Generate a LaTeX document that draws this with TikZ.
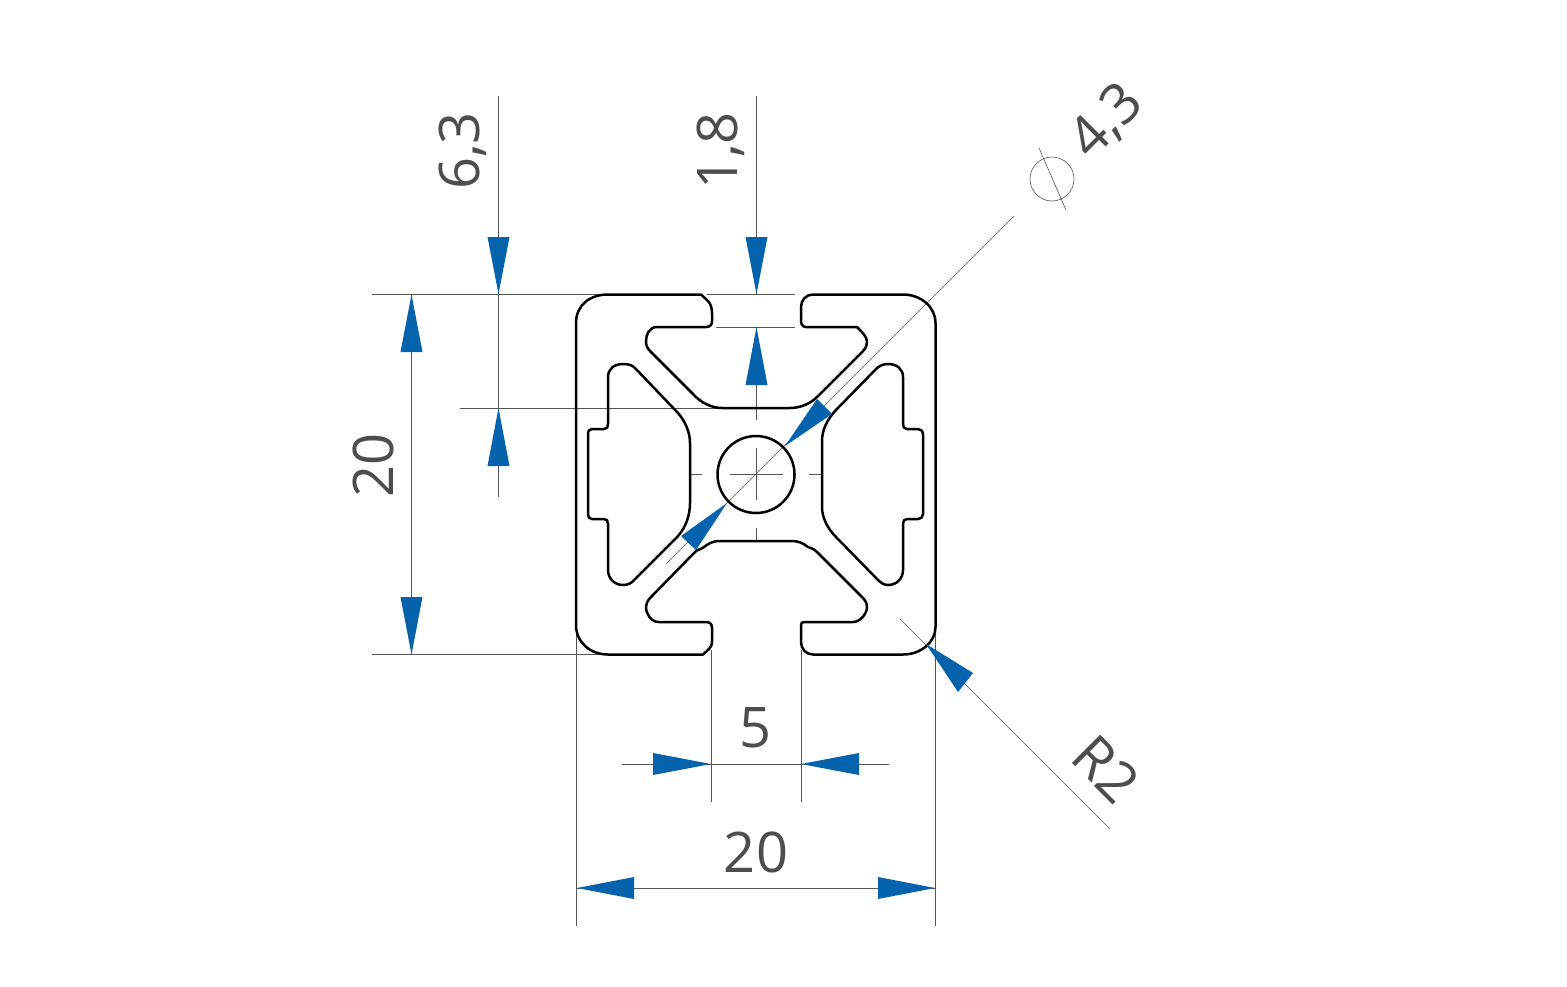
\documentclass[tikz,border=0pt]{standalone}
\usepackage{fontspec}
\setmainfont{Open Sans}
\definecolor{dimgray}{HTML}{555555}
\definecolor{dimtext}{HTML}{4D4D4D}
\definecolor{dimblue}{HTML}{0563AE}
\tikzset{
  profile/.style={draw=black,line width=1.25pt,line join=round},
  dimline/.style={draw=dimgray,line width=0.4pt},
  thinline/.style={draw=dimgray,line width=0.3pt},
  tip/.style={fill=dimblue,draw=none},
  dimlabel/.style={text=dimtext,font=\fontsize{28}{28}\selectfont,inner sep=0pt,anchor=center}
}
\begin{document}
\begin{tikzpicture}[x=0.5pt,y=-0.5pt]
\useasboundingbox (0,0) rectangle (1567,986);
\fill[white] (0,0) rectangle (1567,986);
% dimension lines
\draw[dimline] (372,294.5) -- (604,294.5);
\draw[dimline] (372,654.5) -- (604,654.5);
\draw[dimline] (707,294.5) -- (795,294.5);
\draw[dimline] (716,327) -- (795,327);
\draw[dimline] (460,408) -- (722,408);
\draw[dimline] (756.5,96) -- (756.5,294);
\draw[dimline] (756.5,327) -- (756.5,420);
\draw[dimline] (756.5,448) -- (756.5,500);
\draw[dimline] (756.5,528) -- (756.5,540);
\draw[dimline] (691,474.5) -- (702,474.5);
\draw[dimline] (730,474.5) -- (783,474.5);
\draw[dimline] (809,474.5) -- (822,474.5);
\draw[dimline] (498.5,96) -- (498.5,497);
\draw[dimline] (411.5,294.5) -- (411.5,654.5);
\draw[dimline] (576.5,625) -- (576.5,926);
\draw[dimline] (935.5,625) -- (935.5,926);
\draw[dimline] (577,888) -- (935,888);
\draw[dimline] (622,764) -- (889,764);
\draw[dimline] (711.5,650) -- (711.5,802);
\draw[dimline] (801,650) -- (801,802);
\draw[thinline] (1014,216) -- (666,564);
\draw[thinline] (900,619) -- (1110,829);
% profile
\draw[profile] (576,323) .. controls (576,305) and (590,294.5) .. (608,294.5) -- (701,294.5) -- (708,301)
  .. controls (711,304) and (712,309) .. (712,313) -- (712,321) .. controls (712,325) and (710,327) .. (706,327)
  -- (657,327) .. controls (649,327) and (646,335) .. (646,341) .. controls (646,345) and (647,348) .. (650,351)
  -- (693,394) .. controls (701,403) and (712,408) .. (722,408) -- (790,408)
  .. controls (800,408) and (810,404) .. (817,397) -- (863,351) .. controls (866,348) and (867,345) .. (867,342)
  .. controls (867,337) and (863,333) .. (857,327) -- (806,327) .. controls (802,327) and (801,324) .. (801,320) -- (801,307)
  .. controls (801,300) and (806,294.5) .. (813,294.5) -- (903,294.5)
  .. controls (921,294.5) and (935.5,307) .. (935.5,323) -- (935.5,627)
  .. controls (935.5,642) and (921,654.5) .. (903,654.5) -- (813,654.5)
  .. controls (806,654.5) and (801,649) .. (801,642) -- (801,625) .. controls (801,623) and (802,622) .. (804,622)
  -- (853,622) .. controls (860,622) and (867,614) .. (867,607) .. controls (867,603) and (865,600) .. (862,597)
  -- (817,552) .. controls (813,548) and (810,548) .. (808,547) .. controls (803,543) and (798,541) .. (792,541)
  -- (720,541) .. controls (712,541) and (708,544) .. (704,547) .. controls (700,550) and (698,549) .. (695,552)
  -- (651,597) .. controls (647,601) and (646,604) .. (646,607) .. controls (646,614) and (651,622) .. (659,622)
  -- (706,622) .. controls (710,622) and (712,624) .. (712,628) -- (712,641) .. controls (712,645) and (711,647) .. (709,649)
  -- (703,654.5) -- (608,654.5) .. controls (590,654.5) and (576,642) .. (576,625) -- cycle;
\draw[profile] (608,377) .. controls (608,369) and (614,364) .. (623,364) .. controls (628,364) and (632,365) .. (635,368)
  -- (678,413) .. controls (685,421) and (690,432) .. (690,443) -- (690,503)
  .. controls (690,515) and (686,527) .. (678,536) -- (635,579) .. controls (632,583) and (628,585) .. (623,585)
  .. controls (614,585) and (608,578) .. (608,570) -- (608,524) .. controls (608,521) and (607,519) .. (604,519)
  -- (592,519) .. controls (589,519) and (588,517) .. (588,514) -- (588,435)
  .. controls (588,431) and (589,429) .. (592,429) -- (604,429) .. controls (607,429) and (608,427) .. (608,424) -- cycle;
\draw[profile] (903,377) .. controls (903,369) and (897,364) .. (888,364) .. controls (884,364) and (881,365) .. (877,368)
  -- (835,411) .. controls (827,420) and (822,430) .. (822,441) -- (822,507)
  .. controls (822,518) and (828,529) .. (836,537) -- (877,579) .. controls (881,583) and (884,585) .. (888,585)
  .. controls (897,585) and (903,578) .. (903,570) -- (903,524) .. controls (903,521) and (904,519) .. (907,519)
  -- (918,519) .. controls (921,519) and (923,517) .. (923,514) -- (923,435)
  .. controls (923,431) and (921,429) .. (918,429) -- (907,429) .. controls (904,429) and (903,427) .. (903,424) -- cycle;
\draw[profile] (756,474.5) circle [x radius=38.5,y radius=38.5];
% arrowheads
\fill[tip] (756.5,294) -- (745.5,237) -- (767.5,237) -- cycle;
\fill[tip] (756.5,327) -- (745.5,385) -- (767.5,385) -- cycle;
\fill[tip] (498.5,294) -- (487.5,237) -- (509.5,237) -- cycle;
\fill[tip] (498.5,408) -- (487.5,466) -- (509.5,466) -- cycle;
\fill[tip] (411.5,294.5) -- (400.5,352) -- (422.5,352) -- cycle;
\fill[tip] (411.5,654.5) -- (400.5,597) -- (422.5,597) -- cycle;
\fill[tip] (577,888) -- (634,877) -- (634,899) -- cycle;
\fill[tip] (935,888) -- (878,877) -- (878,899) -- cycle;
\fill[tip] (711,764) -- (653,753) -- (653,775) -- cycle;
\fill[tip] (801,764) -- (859,753) -- (859,775) -- cycle;
\fill[tip] (785,446) -- (817,399) -- (832,414) -- cycle;
\fill[tip] (727,503) -- (681,536) -- (696,550) -- cycle;
\fill[tip] (926,644) -- (973,673) -- (958,692) -- cycle;
% diameter symbol
\draw[thinline] (1052,179) circle [x radius=22,y radius=22];
\draw[thinline] (1039,148) -- (1066,210);
% labels
\node[dimlabel,rotate=90] (a) at (373,465) {20};
\node[dimlabel,rotate=90] (b) at (463,151) {6,3};
\node[dimlabel,rotate=90] (c) at (721,151) {1,8};
\node[dimlabel,rotate=45] (d) at (1107,122) {4,3};
\node[dimlabel] (e) at (755,728) {5};
\node[dimlabel] (f) at (756,852) {20};
\node[dimlabel,rotate=-45] (g) at (1106,769) {R2};
\end{tikzpicture}
\end{document}
